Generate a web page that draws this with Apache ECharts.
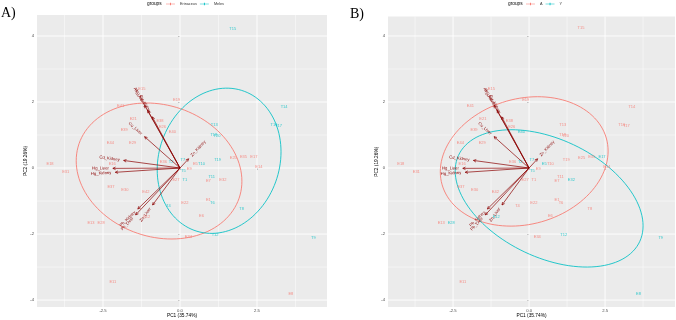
<!DOCTYPE html>
<html lang="en">
<head>
  <meta charset="UTF-8">
  <title>PCA biplot</title>
  <script src="https://cdn.jsdelivr.net/npm/echarts@6/dist/echarts.min.js"></script>
  <style>
    html, body { margin: 0; padding: 0; background: #fff; }
    #main { width: 676px; height: 320px; }
  </style>
</head>
<body>
<div id="main"></div>
<script>
  // sample scores on PC1 / PC2 (E = hedgehog, T = badger)
  var ptNames = ['E15','E19','E41','E21','E38','E26','E39','E40','E44','E29',
                 'E25','E35','E17','E14','E36','E16','E18','E31','E5','E9',
                 'E27','E7','E32','E37','E30','E42','E22','E1','E6','E12',
                 'E13','E28','E34','E11','E8',
                 'T15','T14','T13','T16','T17','T18','T20','T19','T7','T10',
                 'T2','T5','T1','T11','T6','T8','T4','T12','T9'];
  var pc1 = [-1.24,-0.11,-1.93,-1.52,-0.65,-0.57,-1.81,-0.25,-2.26,-1.54,
             1.73,2.06,2.40,2.56,-0.54,-2.20,-4.22,-3.71,0.50,0.30,
             -0.13,0.92,1.39,-2.24,-1.79,-1.11,0.16,0.92,0.70,-1.08,
             -2.89,-2.56,0.27,-2.18,3.60,
             1.71,3.38,1.11,3.05,3.20,1.10,1.20,1.22,0.09,0.70,
             -0.29,0.11,0.16,1.03,1.05,2.00,-0.38,1.14,4.33];
  var pc2 = [2.41,2.06,1.88,1.48,1.43,1.25,1.17,1.09,0.77,0.77,
             0.32,0.34,0.34,0.04,0.19,0.14,0.14,-0.13,0.14,-0.03,
             -0.35,-0.38,-0.36,-0.57,-0.65,-0.72,-1.07,-0.97,-1.45,-1.47,
             -1.65,-1.65,-2.10,-3.46,-3.80,
             4.23,1.86,1.32,1.30,1.27,1.00,0.96,0.26,0.26,0.14,
             0.19,-0.08,-0.35,-0.26,-1.07,-1.24,-1.14,-2.03,-2.11];
  // grouping of panel A (species) and panel B
  var groupA = ['Erinaceus','Erinaceus','Erinaceus','Erinaceus','Erinaceus','Erinaceus','Erinaceus','Erinaceus','Erinaceus','Erinaceus',
                'Erinaceus','Erinaceus','Erinaceus','Erinaceus','Erinaceus','Erinaceus','Erinaceus','Erinaceus','Erinaceus','Erinaceus',
                'Erinaceus','Erinaceus','Erinaceus','Erinaceus','Erinaceus','Erinaceus','Erinaceus','Erinaceus','Erinaceus','Erinaceus',
                'Erinaceus','Erinaceus','Erinaceus','Erinaceus','Erinaceus',
                'Meles','Meles','Meles','Meles','Meles','Meles','Meles','Meles','Meles','Meles',
                'Meles','Meles','Meles','Meles','Meles','Meles','Meles','Meles','Meles'];
  var groupB = ['A','A','A','A','A','A','A','Y','A','A',
                'A','A','Y','A','A','A','A','A','Y','A',
                'A','A','Y','A','A','A','A','A','A','Y',
                'A','Y','A','A','Y',
                'A','A','A','A','A','A','A','A','Y','A',
                'Y','Y','A','A','A','A','A','Y','Y'];

  // variable loadings (arrows)
  var varNames = ['Cd_Kidney','Hg_Liver','Hg_Kidney','Cu_Liver','As_Liver','As_Kidney',
                  'Cu_Kidney','Zn_Kidney','Pb_Kidney','Pb_Liver','Zn_Liver'];
  var loadX = [-1.83,-2.18,-2.10,-1.15,-1.15,-1.05,-0.90,0.28,-1.37,-1.44,-0.89];
  var loadY = [0.23,-0.01,-0.13,0.95,1.90,1.75,1.55,0.28,-1.24,-1.42,-1.12];

  // group ellipses: centre x, centre y, half width, half height, skew
  var ellErinaceus = [-0.68, -0.09, 2.69, 2.06, -0.15];
  var ellMeles = [1.27, 0.22, 2.01, 2.20, 0.123];
  var ellA = [-0.16, 0.20, 2.76, 1.96, 0.16];
  var ellY = [0.66, -0.92, 3.09, 2.08, -0.40];

  var xTicks = [-2.5, 0, 2.5];
  var xMinor = [-3.75, -1.25, 1.25, 3.75];
  var yTicks = [-4, -2, 0, 2, 4];
  var yMinor = [-3, -1, 1, 3];

  var RED = '#F8766D', CYAN = '#00BFC4', DARKRED = '#8B0000';
  var FONT = 'Liberation Sans, Arial, sans-serif';
  var KEY = 'path://M0,4H20V5H0Z M9,1.5H11V7.5H9Z';

  var myChart = echarts.init(document.getElementById('main'));

  // white panel grid lines
  var gridLines = [];
  xMinor.forEach(function (v) { gridLines.push([0, v, 0]); });
  yMinor.forEach(function (v) { gridLines.push([1, v, 0]); });
  xTicks.forEach(function (v) { gridLines.push([0, v, 1]); });
  yTicks.forEach(function (v) { gridLines.push([1, v, 1]); });

  function renderGrid(params, api) {
    var cs = params.coordSys;
    var shape;
    if (api.value(0) === 0) {
      var px = api.coord([api.value(1), 0])[0];
      shape = {x1: px, y1: cs.y, x2: px, y2: cs.y + cs.height};
    } else {
      var py = api.coord([0, api.value(1)])[1];
      shape = {x1: cs.x, y1: py, x2: cs.x + cs.width, y2: py};
    }
    return {type: 'line', shape: shape, silent: true,
      style: {stroke: '#fff', lineWidth: api.value(2) ? 0.9 : 0.45}};
  }

  function renderEllipse(params, api) {
    var cx = api.value(0), cy = api.value(1), w = api.value(2), h = api.value(3);
    var d = Math.acos(api.value(4));
    var pts = [];
    for (var i = 0; i <= 120; i++) {
      var t = i / 120 * Math.PI * 2;
      pts.push(api.coord([cx + w * Math.cos(t), cy + h * Math.cos(t - d)]));
    }
    return {type: 'polyline', shape: {points: pts}, silent: true,
      style: {stroke: api.visual('color'), fill: null, lineWidth: 0.85}};
  }

  function renderArrow(params, api) {
    var o = api.coord([0, 0]);
    var p = api.coord([api.value(0), api.value(1)]);
    var dx = p[0] - o[0], dy = p[1] - o[1];
    var len = Math.sqrt(dx * dx + dy * dy), ux = dx / len, uy = dy / len;
    var hl = 3, a = 0.45, c = Math.cos(a), s = Math.sin(a);
    var h1 = [p[0] - hl * (ux * c - uy * s), p[1] - hl * (uy * c + ux * s)];
    var h2 = [p[0] - hl * (ux * c + uy * s), p[1] - hl * (uy * c - ux * s)];
    var left = dx < 0;
    var rot = left ? Math.atan2(dy, -dx) : Math.atan2(-dy, dx);
    return {type: 'group', silent: true, children: [
      {type: 'line', shape: {x1: o[0], y1: o[1], x2: p[0], y2: p[1]},
        style: {stroke: DARKRED, lineWidth: 0.7}},
      {type: 'polyline', shape: {points: [h1, p, h2]},
        style: {stroke: DARKRED, fill: null, lineWidth: 0.7}},
      {type: 'text', x: p[0], y: p[1], rotation: rot,
        style: {text: varNames[params.dataIndex], x: left ? -4 : 4, y: 0,
          align: left ? 'right' : 'left', verticalAlign: 'middle',
          fill: DARKRED, fontSize: 4.2, fontFamily: FONT}}
    ]};
  }

  function pointSeries(name, color, groups, idx) {
    var data = [];
    for (var i = 0; i < ptNames.length; i++) {
      if (groups[i] === name) data.push({name: ptNames[i], value: [pc1[i], pc2[i]]});
    }
    return {type: 'scatter', name: name, xAxisIndex: idx, yAxisIndex: idx, data: data,
      symbolSize: 0, itemStyle: {color: color}, silent: true, z: 4,
      label: {show: true, position: 'inside', formatter: '{b}', color: color,
        fontSize: 4, fontFamily: FONT}};
  }

  function ellipseSeries(name, color, ell, idx) {
    return {type: 'custom', name: name, xAxisIndex: idx, yAxisIndex: idx,
      data: [ell], itemStyle: {color: color}, renderItem: renderEllipse, z: 3};
  }

  function panelSeries(idx) {
    return [
      {type: 'custom', xAxisIndex: idx, yAxisIndex: idx, data: gridLines, renderItem: renderGrid, z: 1},
      {type: 'custom', xAxisIndex: idx, yAxisIndex: idx,
        data: loadX.map(function (v, i) { return [v, loadY[i]]; }), renderItem: renderArrow, z: 5}
    ];
  }

  function xAxis(idx, min, max) {
    return {type: 'value', gridIndex: idx, min: min, max: max,
      axisLine: {show: false}, splitLine: {show: false},
      axisTick: {show: true, customValues: xTicks, length: 2, lineStyle: {color: '#333', width: 0.5}},
      axisLabel: {customValues: xTicks, fontSize: 4.2, color: '#4D4D4D', margin: 2, fontFamily: FONT,
        formatter: function (v) { return v.toFixed(1); }},
      name: 'PC1 (35.74%)', nameLocation: 'middle', nameGap: 6.3, nameMoveOverlap: false,
      nameTextStyle: {fontSize: 4.8, color: '#000', fontFamily: FONT}};
  }

  function yAxis(idx, min, max) {
    return {type: 'value', gridIndex: idx, min: min, max: max,
      axisLine: {show: false}, splitLine: {show: false},
      axisTick: {show: true, customValues: yTicks, length: 2, lineStyle: {color: '#333', width: 0.5}},
      axisLabel: {customValues: yTicks, fontSize: 4.2, color: '#4D4D4D', margin: 3, fontFamily: FONT},
      name: 'PC2 (19.26%)', nameLocation: 'middle', nameGap: 8.5, nameMoveOverlap: false,
      nameTextStyle: {fontSize: 4.8, color: '#000', fontFamily: FONT}};
  }

  var legendStyle = {top: 2, itemWidth: 9, itemHeight: 4, itemGap: 3, padding: 0, selectedMode: false,
    textStyle: {fontSize: 3.8, color: '#333', fontFamily: FONT}};

  var option = {
    animation: false,
    backgroundColor: '#fff',
    grid: [
      {left: 37, top: 15, width: 290, height: 292, show: true, backgroundColor: '#EBEBEB', borderWidth: 0,
        containLabel: false, outerBoundsMode: 'none'},
      {left: 388, top: 16.5, width: 287, height: 290.5, show: true, backgroundColor: '#EBEBEB', borderWidth: 0,
        containLabel: false, outerBoundsMode: 'none'}
    ],
    xAxis: [xAxis(0, -4.643, 4.773), xAxis(1, -4.64, 4.80)],
    yAxis: [yAxis(0, -4.21, 4.636), yAxis(1, -4.21, 4.59)],
    legend: [
      Object.assign({left: 166, data: [{name: 'Erinaceus', icon: KEY}, {name: 'Meles', icon: KEY}]}, legendStyle),
      Object.assign({left: 526, data: [{name: 'A', icon: KEY}, {name: 'Y', icon: KEY}]}, legendStyle)
    ],
    graphic: [
      {type: 'text', left: 1, top: 6, style: {text: 'A)', fontSize: 14, fontFamily: 'Liberation Serif, serif', fill: '#000'}},
      {type: 'text', left: 350, top: 7, style: {text: 'B)', fontSize: 14, fontFamily: 'Liberation Serif, serif', fill: '#000'}},
      {type: 'text', left: 147, top: 1.5, style: {text: 'groups', fontSize: 4.8, fontFamily: FONT, fill: '#000'}},
      {type: 'text', left: 508, top: 1.5, style: {text: 'groups', fontSize: 4.8, fontFamily: FONT, fill: '#000'}}
    ],
    series: [].concat(
      panelSeries(0),
      [ellipseSeries('Erinaceus', RED, ellErinaceus, 0), ellipseSeries('Meles', CYAN, ellMeles, 0),
       pointSeries('Erinaceus', RED, groupA, 0), pointSeries('Meles', CYAN, groupA, 0)],
      panelSeries(1),
      [ellipseSeries('A', RED, ellA, 1), ellipseSeries('Y', CYAN, ellY, 1),
       pointSeries('A', RED, groupB, 1), pointSeries('Y', CYAN, groupB, 1)]
    )
  };
  myChart.setOption(option);
</script>
</body>
</html>
